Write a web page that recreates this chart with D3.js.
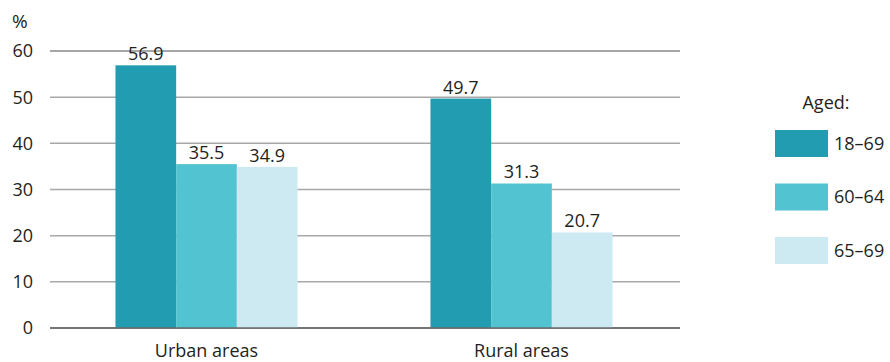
<!DOCTYPE html>
<html>
<head>
<meta charset="utf-8">
<script src="https://cdn.jsdelivr.net/npm/d3@7"></script>
<style>
  html, body { margin: 0; padding: 0; background: #fff; }
  svg { display: block; font-family: "Open Sans", "Noto Sans", sans-serif; }
</style>
</head>
<body>
<svg id="chart" width="890" height="362"></svg>
<script>
// Share of people, by area and age group (%)
const areas = ["Urban areas", "Rural areas"];
const ageGroups = ["18–69", "60–64", "65–69"];
const urbanValues = [56.9, 35.5, 34.9];
const ruralValues = [49.7, 31.3, 20.7];
const yTicks = [0, 10, 20, 30, 40, 50, 60];
const groupColors = ["#219cb1", "#52c4d1", "#cde9f1"];

const rows = [urbanValues, ruralValues];

const svg = d3.select("#chart");
const textColor = "#231f20";

const x0 = d3.scaleBand()
  .domain(areas)
  .range([49, 679])
  .paddingInner(0.422)
  .paddingOuter(0.211);

const x1 = d3.scaleBand()
  .domain(ageGroups)
  .range([0, x0.bandwidth()]);

const y = d3.scaleLinear()
  .domain([0, 60])
  .range([328, 51]);

// Horizontal gridlines
svg.append("g")
  .selectAll("line")
  .data(yTicks)
  .join("line")
  .attr("x1", 50)
  .attr("x2", 680)
  .attr("y1", d => y(d))
  .attr("y2", d => y(d))
  .attr("stroke", d => (d === 0 ? "#6b6b6b" : d === 60 ? "#8a8a8a" : "#a8a8a8"))
  .attr("stroke-width", 1.5);

// Y tick labels
svg.append("g")
  .selectAll("text")
  .data(yTicks)
  .join("text")
  .attr("x", 33)
  .attr("y", d => y(d))
  .attr("dy", "0.36em")
  .attr("text-anchor", "end")
  .attr("font-size", 18)
  .attr("fill", textColor)
  .text(d => d);

svg.append("text")
  .attr("x", 12)
  .attr("y", 28)
  .attr("font-size", 19)
  .attr("fill", textColor)
  .text("%");

// Bars
const groups = svg.append("g")
  .selectAll("g")
  .data(areas)
  .join("g")
  .attr("transform", d => `translate(${x0(d)},0)`);

groups.selectAll("rect")
  .data((d, i) => rows[i].map((v, j) => ({ key: ageGroups[j], value: v, idx: j })))
  .join("rect")
  .attr("x", d => x1(d.key))
  .attr("y", d => y(d.value))
  .attr("width", x1.bandwidth())
  .attr("height", d => y(0) - y(d.value))
  .attr("fill", d => groupColors[d.idx]);

// Value labels
groups.selectAll("text")
  .data((d, i) => rows[i].map((v, j) => ({ key: ageGroups[j], value: v })))
  .join("text")
  .attr("x", d => x1(d.key) + x1.bandwidth() / 2)
  .attr("y", d => y(d.value) - 5)
  .attr("text-anchor", "middle")
  .attr("font-size", 18)
  .attr("fill", textColor)
  .text(d => d.value.toFixed(1));

// Redraw baseline over bars
svg.append("line")
  .attr("x1", 50).attr("x2", 680)
  .attr("y1", y(0)).attr("y2", y(0))
  .attr("stroke", "#6b6b6b")
  .attr("stroke-width", 1.5);

// Category labels
svg.append("g")
  .selectAll("text")
  .data(areas)
  .join("text")
  .attr("x", d => x0(d) + x0.bandwidth() / 2)
  .attr("y", 357)
  .attr("text-anchor", "middle")
  .attr("font-size", 18)
  .attr("fill", textColor)
  .text(d => d);

// Legend
const legend = svg.append("g");
legend.append("text")
  .attr("x", 826)
  .attr("y", 109)
  .attr("text-anchor", "middle")
  .attr("font-size", 18)
  .attr("fill", textColor)
  .text("Aged:");

const legendItems = legend.selectAll("g.item")
  .data(ageGroups)
  .join("g")
  .attr("class", "item")
  .attr("transform", (d, i) => `translate(775,${130 + i * 53.5})`);

legendItems.append("rect")
  .attr("width", 53)
  .attr("height", 27)
  .attr("fill", (d, i) => groupColors[i]);

legendItems.append("text")
  .attr("x", 59)
  .attr("y", 13.5)
  .attr("dy", "0.36em")
  .attr("font-size", 18)
  .attr("fill", textColor)
  .text(d => d);
</script>
</body>
</html>
